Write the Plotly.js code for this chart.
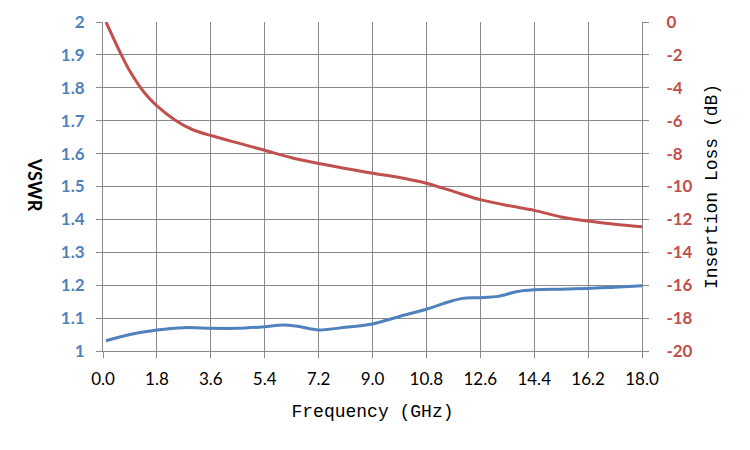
<!DOCTYPE html>
<html>
<head>
<meta charset="utf-8">
<script src="https://cdn.plot.ly/plotly-3.0.1.min.js"></script>
<style>
    html, body { margin: 0; padding: 0; background: #fff; }
    #chart { width: 750px; height: 450px; }
</style>
</head>
<body>
<div id="chart"></div>
<script>
'use strict';

// Values
let freqIL = [0.1, 0.6, 0.9, 1.2, 1.5, 1.8, 2.4, 3.0, 3.6, 4.5, 5.4, 6.3, 7.2, 8.1, 9.0, 9.9, 10.8, 11.7, 12.6, 13.5, 14.4, 15.3, 16.2, 17.1, 18.0];
let insLoss = [0.0, -1.95, -3.0, -3.85, -4.55, -5.1, -5.95, -6.55, -6.9, -7.35, -7.8, -8.25, -8.6, -8.9, -9.2, -9.45, -9.8, -10.3, -10.8, -11.15, -11.45, -11.85, -12.1, -12.3, -12.45];

let freqVSWR = [0.1, 0.9, 1.8, 2.7, 3.6, 4.5, 5.4, 6.0, 6.5, 7.2, 8.1, 9.0, 9.9, 10.8, 11.5, 12.0, 12.6, 13.2, 13.8, 14.4, 15.3, 16.2, 17.1, 18.0];
let vswr = [1.031, 1.05, 1.064, 1.071, 1.069, 1.069, 1.074, 1.079, 1.075, 1.064, 1.072, 1.082, 1.105, 1.127, 1.148, 1.16, 1.162, 1.166, 1.18, 1.186, 1.188, 1.19, 1.194, 1.198];

let xTicks = [0, 1.8, 3.6, 5.4, 7.2, 9.0, 10.8, 12.6, 14.4, 16.2, 18.0];
let ilTickVals = [0, -2, -4, -6, -8, -10, -12, -14, -16, -18, -20];
let ilTickText = ['0', '-2', '-4', '-6', '-8', '-10', '-12', '-14', '-16', '-18', '-20'];

let blue = '#4F81BD';
let red = '#C0504D';
let gridColor = '#898989';
let tickFont = 'Lato, Open Sans, sans-serif';
let monoFont = 'Liberation Mono';

let traceVSWR = {
    x: freqVSWR,
    y: vswr,
    name: 'VSWR',
    type: 'scatter',
    mode: 'lines',
    line: { color: blue, width: 3, shape: 'spline', smoothing: 0.8 },
    yaxis: 'y'
};

let traceIL = {
    x: freqIL,
    y: insLoss,
    name: 'Insertion Loss',
    type: 'scatter',
    mode: 'lines',
    line: { color: red, width: 3, shape: 'spline', smoothing: 0.8 },
    yaxis: 'y2'
};

let layout = {
    width: 750,
    height: 450,
    margin: { l: 103, r: 108, t: 22, b: 99 },
    paper_bgcolor: '#ffffff',
    plot_bgcolor: '#ffffff',
    showlegend: false,

    xaxis: {
        range: [0, 18],
        tickvals: xTicks,
        tickformat: '.1f',
        showgrid: true,
        gridcolor: gridColor,
        gridwidth: 1,
        zeroline: false,
        showline: true,
        linecolor: gridColor,
        ticks: 'outside',
        ticklen: 6,
        tickcolor: gridColor,
        ticklabelstandoff: 7,
        tickfont: { family: tickFont, size: 17, color: '#000000' },
        title: {
            text: 'Frequency (GHz)',
            font: { family: monoFont, size: 18, color: '#000000' },
            standoff: 15
        }
    },

    yaxis: {
        range: [1, 2],
        dtick: 0.1,
        showgrid: true,
        gridcolor: gridColor,
        gridwidth: 1,
        zeroline: false,
        showline: true,
        linecolor: gridColor,
        ticks: 'outside',
        ticklen: 6,
        tickcolor: gridColor,
        ticklabelstandoff: 8,
        tickfont: { family: tickFont, size: 17, color: blue, weight: 'bold' }
    },

    yaxis2: {
        range: [-20, 0],
        tickvals: ilTickVals,
        ticktext: ilTickText,
        overlaying: 'y',
        side: 'right',
        showgrid: false,
        zeroline: false,
        showline: true,
        linecolor: gridColor,
        ticks: 'outside',
        ticklen: 6,
        tickcolor: gridColor,
        ticklabelstandoff: 14,
        tickfont: { family: tickFont, size: 17, color: red, weight: 'bold' },
        title: {
            text: 'Insertion Loss (dB)',
            font: { family: monoFont, size: 18, color: '#000000' },
            standoff: 12
        }
    },

    annotations: [{
        text: 'VSWR',
        xref: 'paper',
        yref: 'paper',
        x: -0.126,
        y: 0.505,
        xanchor: 'center',
        yanchor: 'middle',
        showarrow: false,
        textangle: 90,
        font: { family: tickFont, size: 18, color: '#000000', weight: 'bold' }
    }]
};

let config = {
    displayModeBar: false,
    staticPlot: true
};

Plotly.newPlot('chart', [traceVSWR, traceIL], layout, config);
</script>
</body>
</html>
